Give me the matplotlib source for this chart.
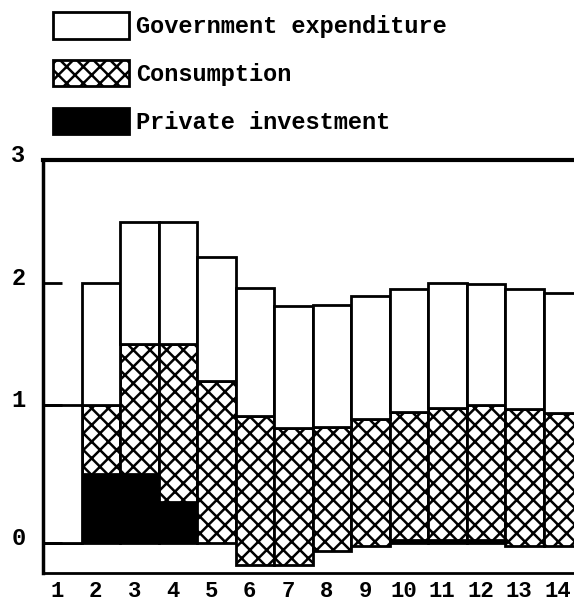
import numpy as np
import matplotlib
matplotlib.use('Agg')
import matplotlib.pyplot as plt
from matplotlib.patches import Patch
from matplotlib.transforms import ScaledTranslation

#%% Data
periods = np.arange(1, 15)
investment = [0.0, 0.5, 0.5, 0.3, 0.0, -0.16, -0.16, -0.06, -0.02, 0.02, 0.02, 0.02, -0.02, -0.02]
consumption = [0.0, 0.5, 1.0, 1.2, 1.2, 1.08, 0.99, 0.90, 0.92, 0.93, 0.96, 0.98, 0.99, 0.96]
government = [1.0, 1.0, 1.0, 1.0, 1.01, 1.04, 0.98, 0.98, 0.99, 1.0, 1.02, 0.99, 0.98, 0.98]
y_ticks = [0, 1, 2, 3]
labels = ['Government expenditure', 'Consumption', 'Private investment']

#%% Style
plt.rcParams['font.family'] = ['Liberation Mono', 'DejaVu Sans Mono']
plt.rcParams['font.weight'] = 'bold'
plt.rcParams['hatch.linewidth'] = 1.8

# the hand drawn axis is not evenly spaced: 0->1 is wider than 1->2, 2->3
yv = [0, 1, 2, 3]
yp = [0, 138, 260, 383]

def fwd(v):
    v = np.asarray(v, dtype=float)
    out = np.interp(v, yv, yp)
    out = np.where(v < 0, v * 138, out)
    out = np.where(v > 3, 383 + (v - 3) * 123, out)
    return out

def inv(p):
    p = np.asarray(p, dtype=float)
    out = np.interp(p, yp, yv)
    out = np.where(p < 0, p / 138, out)
    out = np.where(p > 383, 3 + (p - 383) / 123, out)
    return out

#%% Figure
W, H = 574, 611
fig = plt.figure(figsize=(W / 100, H / 100), dpi=100)
ax = fig.add_axes([43 / W, 1 - 573 / H, (W - 43) / W, (573 - 160) / H])
ax.set_yscale('function', functions=(fwd, inv))

inv_a = np.array(investment)
cons_a = np.array(consumption)
gov_a = np.array(government)
x = periods

pos = inv_a > 0
ax.bar(x[pos], inv_a[pos], width=1.0, color='black', edgecolor='black', linewidth=2)
ax.bar(x, cons_a, bottom=inv_a, width=1.0, facecolor='white', edgecolor='black',
       hatch='xx', linewidth=2)
ax.bar(x, gov_a, bottom=inv_a + cons_a, width=1.0, facecolor='white',
       edgecolor='black', linewidth=2)

ax.set_xlim(0.5, 0.5 + (W - 43) / 38.5)
ax.set_ylim(-0.217, 3)

ax.set_xticks(periods)
ax.set_xticklabels([str(p) for p in periods], fontsize=16)
ax.set_yticks(y_ticks)
ax.set_yticklabels([str(t) for t in y_ticks], fontsize=17)
ax.tick_params(axis='x', length=0, pad=6)
ax.tick_params(axis='y', direction='in', length=14, width=2, pad=14)

# labels sit a little off the ticks in the original
for lab in ax.get_xticklabels():
    lab.set_transform(lab.get_transform() + ScaledTranslation(-0.05, 0, fig.dpi_scale_trans))
for lab in ax.get_yticklabels():
    lab.set_transform(lab.get_transform() + ScaledTranslation(0.02, 0.07, fig.dpi_scale_trans))

ax.spines['right'].set_visible(False)
ax.spines['top'].set_linewidth(3)
ax.spines['left'].set_linewidth(2.5)
ax.spines['bottom'].set_linewidth(2)

#%% Legend
handles = [Patch(facecolor='white', edgecolor='black', linewidth=2),
           Patch(facecolor='white', edgecolor='black', hatch='xx', linewidth=2),
           Patch(facecolor='black', edgecolor='black', linewidth=2)]
fig.legend(handles, labels, loc='upper left', bbox_to_anchor=(53 / W, 1 - 12 / H),
           frameon=False, fontsize=17, handlelength=3.2, handleheight=1.35,
           handletextpad=0.3, labelspacing=0.9, borderpad=0, borderaxespad=0)

fig.savefig('out.png', dpi=100)
